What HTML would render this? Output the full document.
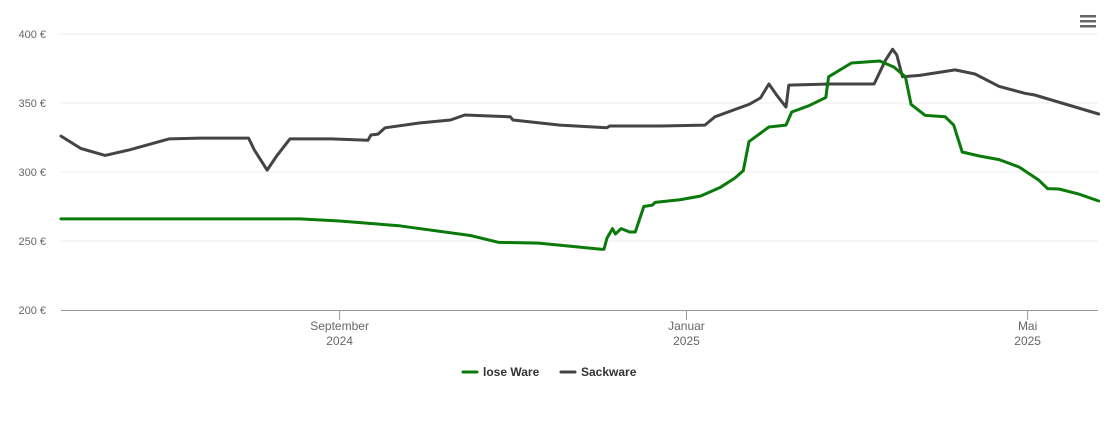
<!DOCTYPE html>
<html><head><meta charset="utf-8"><style>
body{margin:0;background:#fff;font-family:"Liberation Sans",sans-serif;}
svg text{font-family:"Liberation Sans",sans-serif;}
</style></head><body>
<svg id="chart" width="1110" height="422">
<g id="grid"></g><g id="series"></g><g id="axes"></g>
<g>
<rect x="1080" y="15" width="16" height="2.5" fill="#666"/><rect x="1080" y="20" width="16" height="2.5" fill="#666"/><rect x="1080" y="25" width="16" height="2.5" fill="#666"/>
</g>
<g>
<g><line x1="463" y1="372" x2="477" y2="372" stroke="#0a7a0a" stroke-width="3" stroke-linecap="round"/><text x="483" y="376" font-size="12" font-weight="bold" fill="#333">lose Ware</text></g>
<g><line x1="561" y1="372" x2="575" y2="372" stroke="#444" stroke-width="3" stroke-linecap="round"/><text x="581" y="376" font-size="12" font-weight="bold" fill="#333">Sackware</text></g>
</g>
</svg>
<script>
const yTicks=[200,250,300,350,400];
const xTickDays=[98,220,340];
const xTickLabels=[["September","2024"],["Januar","2025"],["Mai","2025"]];
const looseDays=[0,84,98,119,144,154,168,190,191,192,194,195,197,200,202,205,208,209,218,225,232,237,240,242,249,255,257,263,269,270,278,288,293,297,299,304,311,314,317,323,330,337,344,347,351,358,365];
const looseVals=[266,266,264.5,261,254,249,248.5,244,244,252,259,255,259,256.5,256.5,275,276,278,280,282.6,289,295.6,301,322,332.6,334,343.5,348,354,369,379,380.4,376,369,349,341,340,334,314.5,311.6,309,303.6,294,288,287.7,284,279];
const sackDays=[0,7,15.5,24,38,49,66,68,72.5,76,80.5,95,108,109,111.5,114,126,137,142,158,159,175.5,192,193,211,226.5,230,242,246,249,252,255,256,270.5,286,290,292.5,294,296,302,314.5,321.5,330,339,342.5,365];
const sackVals=[326,317,312,316,324,324.6,324.6,316,301.4,312,324,324,323,326.8,327.5,332,335.5,337.7,341.3,340,337.7,334,332,333.3,333.3,334,340,349,353.6,363.8,355,347,363,363.8,363.8,381,389,384.8,369,370,374,371,362,357,355.8,342];
const NS='http://www.w3.org/2000/svg';
const x0=61,x1=1098,pxPerDay=2.843;
const X=d=>x0+d*pxPerDay;
const Y=v=>310-(v-200)*1.38;
const grid=document.getElementById('grid'),axes=document.getElementById('axes'),series=document.getElementById('series');
function mk(tag,attrs,parent){const e=document.createElementNS(NS,tag);for(const k in attrs)e.setAttribute(k,attrs[k]);parent.appendChild(e);return e;}
yTicks.forEach(v=>{
 if(v>200){const l=mk('line',{x1:x0,x2:x1,y1:Y(v),y2:Y(v),stroke:'#eee','stroke-width':1},grid);
 
 }
 const t=mk('text',{x:46,y:Y(v)+4,'text-anchor':'end','font-size':11,fill:'#666'},axes);t.textContent=v+' €';
 
 
});
const ax=mk('line',{x1:x0,x2:x1,y1:310.5,y2:310.5,stroke:'#999','stroke-width':1},axes);


xTickDays.forEach((d,i)=>{
 const tk=mk('line',{x1:X(d),x2:X(d),y1:310,y2:320,stroke:'#999'},axes);
 
 
 const t=mk('text',{x:X(d),y:330,'text-anchor':'middle','font-size':12,fill:'#666'},axes);
 
 
 xTickLabels[i].forEach((s,j)=>{const ts=mk('tspan',{x:X(d),dy:j?15:0},t);ts.textContent=s;});
});
function line(days,vals,color,name){
 const d=days.map((dd,i)=>(i?'L':'M')+X(dd).toFixed(1)+','+Y(vals[i]).toFixed(1)).join('');
 const p=mk('path',{d:d,fill:'none',stroke:color,'stroke-width':3,'stroke-linejoin':'round','stroke-linecap':'round'},series);
 
 
}
line(sackDays,sackVals,'#444','sackware-line');
line(looseDays,looseVals,'#0a7a0a','lose-ware-line');
</script>
</body></html>
